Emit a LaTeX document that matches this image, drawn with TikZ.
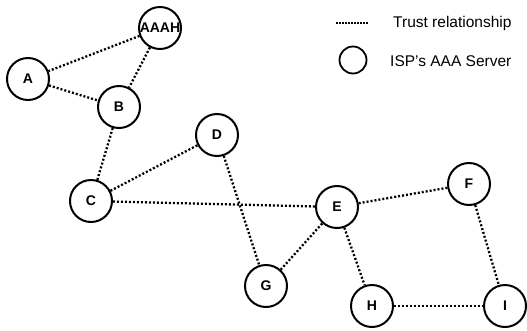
\documentclass[tikz,border=0pt]{standalone}
\usepackage{fontspec}
\setmainfont{Liberation Sans}
\begin{document}
\begin{tikzpicture}[x=1pt,y=-1pt,
  srv/.style={circle,draw,line width=2pt,minimum size=42pt,inner sep=0pt,font=\fontsize{14}{14}\selectfont\bfseries},
  trust/.style={line width=2.3pt,dash pattern=on 2pt off 2pt}]
\useasboundingbox (0,0) rectangle (527,330);
\node[srv] (AAAH) at (160,28) {AAAH};
\node[srv] (A) at (28,79) {A};
\node[srv] (B) at (119,107) {B};
\node[srv] (D) at (217,135) {D};
\node[srv] (C) at (91,201) {C};
\node[srv] (G) at (266,286) {G};
\node[srv] (E) at (337,207) {E};
\node[srv] (F) at (469,184) {F};
\node[srv] (H) at (372,306) {H};
\node[srv] (I) at (505,306) {I};
\draw[trust] (AAAH) -- (A);
\draw[trust] (AAAH) -- (B);
\draw[trust] (A) -- (B);
\draw[trust] (B) -- (C);
\draw[trust] (C) -- (D);
\draw[trust] (C) -- (E);
\draw[trust] (D) -- (G);
\draw[trust] (G) -- (E);
\draw[trust] (E) -- (F);
\draw[trust] (E) -- (H);
\draw[trust] (F) -- (I);
\draw[trust] (H) -- (I);
% legend
\coordinate (l1) at (336,23);
\coordinate (l2) at (369,23);
\draw[line width=1.3pt,dash pattern=on 1.5pt off 1.5pt] (l1) -- (l2);
\node[anchor=west,inner sep=0pt,font=\fontsize{15.5}{15.5}\selectfont] (lt1) at (393,23) {Trust relationship};
\node[circle,draw,line width=1.8pt,minimum size=27pt,inner sep=0pt] (lc) at (353,60) {};
\node[anchor=west,inner sep=0pt,font=\fontsize{15.5}{15.5}\selectfont] (lt2) at (390,61) {ISP’s AAA Server};
\end{tikzpicture}
\end{document}
